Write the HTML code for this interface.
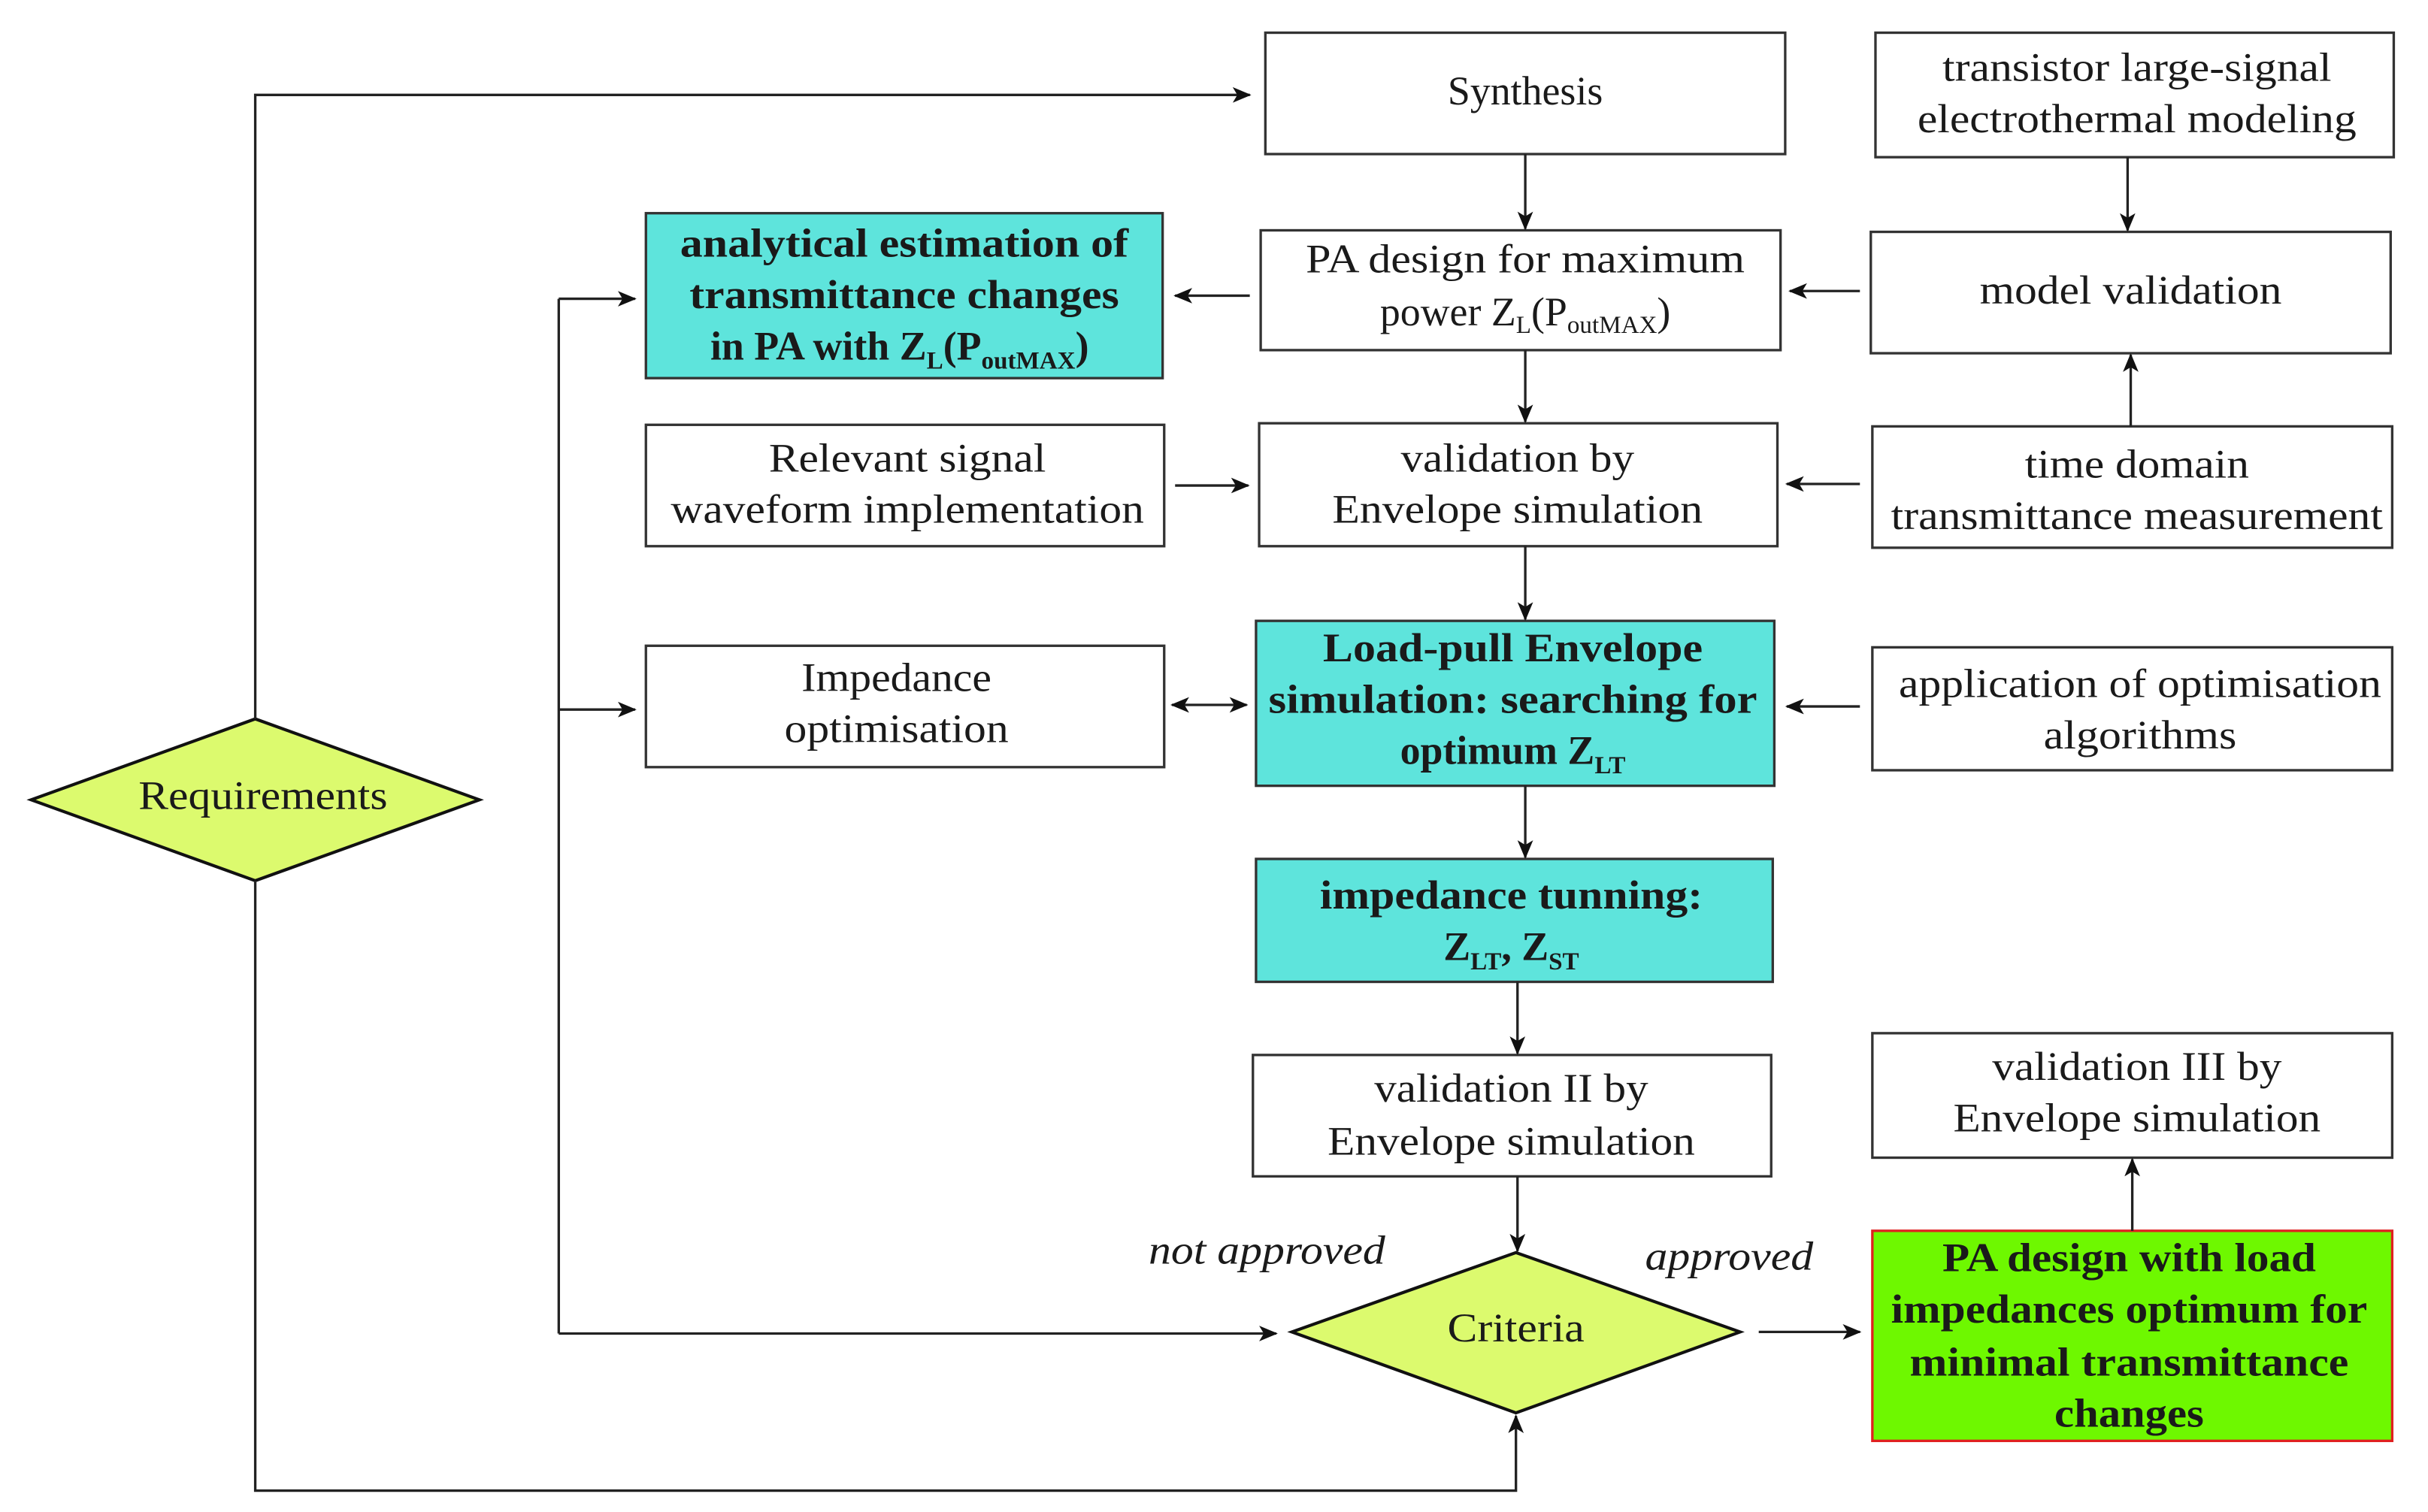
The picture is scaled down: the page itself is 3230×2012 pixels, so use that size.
<!DOCTYPE html>
<html><head><meta charset="utf-8"><style>
html,body{margin:0;padding:0;background:#fff;}
svg{display:block;}
text{font-family:"Liberation Serif",serif;fill:#1a1a1a;font-size:26px;}
.b{font-weight:bold;}
.i{font-style:italic;}
</style></head><body>
<svg width="3230" height="2012" viewBox="0 0 1560 971.7" xmlns="http://www.w3.org/2000/svg">
<defs>
<marker id="a" markerWidth="12" markerHeight="10" refX="11" refY="5" orient="auto" markerUnits="userSpaceOnUse">
<path d="M0,0 L12,5 L0,10 L3,5 Z" fill="#111"/></marker>
<marker id="as" markerWidth="12" markerHeight="10" refX="1" refY="5" orient="auto" markerUnits="userSpaceOnUse">
<path d="M12,0 L0,5 L12,10 L9,5 Z" fill="#111"/></marker>
</defs>
<g stroke="#333" stroke-width="1.6" fill="#fff">
<rect x="813" y="21" width="334" height="78"/>
<rect x="1205" y="21" width="333" height="80"/>
<rect x="415" y="137" width="332" height="106" fill="#5ee4dc"/>
<rect x="810" y="148" width="334" height="77"/>
<rect x="1202" y="149" width="334" height="78"/>
<rect x="415" y="273" width="333" height="78"/>
<rect x="809" y="272" width="333" height="79"/>
<rect x="1203" y="274" width="334" height="78"/>
<rect x="415" y="415" width="333" height="78"/>
<rect x="807" y="399" width="333" height="106" fill="#5ee4dc"/>
<rect x="1203" y="416" width="334" height="79"/>
<rect x="807" y="552" width="332" height="79" fill="#5ee4dc"/>
<rect x="805" y="678" width="333" height="78"/>
<rect x="1203" y="664" width="334" height="80"/>
<rect x="1203" y="791" width="334" height="135" fill="#6ef800" stroke="#e02020"/>
<polygon points="20,514 164,462 308,514 164,566" fill="#dcfa6e" stroke="#111" stroke-width="2"/>
<polygon points="830,856 974,805 1118,856 974,908" fill="#dcfa6e" stroke="#111" stroke-width="2"/>
</g>
<g stroke="#222" stroke-width="1.6" fill="none">
<polyline points="164,462 164,61 803,61" marker-end="url(#a)"/>
<polyline points="164,566 164,958 974,958 974,910" marker-end="url(#a)"/>
<line x1="359" y1="192" x2="359" y2="857"/>
<line x1="359" y1="192" x2="408" y2="192" marker-end="url(#a)"/>
<line x1="359" y1="456" x2="408" y2="456" marker-end="url(#a)"/>
<line x1="359" y1="857" x2="820" y2="857" marker-end="url(#a)"/>
<line x1="980" y1="99" x2="980" y2="147" marker-end="url(#a)"/>
<line x1="803" y1="190" x2="755" y2="190" marker-end="url(#a)"/>
<line x1="1195" y1="187" x2="1150" y2="187" marker-end="url(#a)"/>
<line x1="1367" y1="101" x2="1367" y2="148" marker-end="url(#a)"/>
<line x1="1369" y1="274" x2="1369" y2="228" marker-end="url(#a)"/>
<line x1="980" y1="225" x2="980" y2="271" marker-end="url(#a)"/>
<line x1="755" y1="312" x2="802" y2="312" marker-end="url(#a)"/>
<line x1="1195" y1="311" x2="1148" y2="311" marker-end="url(#a)"/>
<line x1="980" y1="351" x2="980" y2="398" marker-end="url(#a)"/>
<line x1="753" y1="453" x2="801" y2="453" marker-start="url(#as)" marker-end="url(#a)"/>
<line x1="1195" y1="454" x2="1148" y2="454" marker-end="url(#a)"/>
<line x1="980" y1="505" x2="980" y2="551" marker-end="url(#a)"/>
<line x1="975" y1="631" x2="975" y2="677" marker-end="url(#a)"/>
<line x1="975" y1="756" x2="975" y2="804" marker-end="url(#a)"/>
<line x1="1130" y1="856" x2="1195" y2="856" marker-end="url(#a)"/>
<line x1="1370" y1="791" x2="1370" y2="745" marker-end="url(#a)"/>
</g>
<g text-anchor="middle">
<text x="980" y="67">Synthesis</text>
<text x="1373" y="52" textLength="250" lengthAdjust="spacingAndGlyphs">transistor large-signal</text>
<text x="1373" y="85" textLength="282" lengthAdjust="spacingAndGlyphs">electrothermal modeling</text>
<text class="b" x="581" y="165" textLength="288" lengthAdjust="spacingAndGlyphs">analytical estimation of</text>
<text class="b" x="581" y="198" textLength="276" lengthAdjust="spacingAndGlyphs">transmittance changes</text>
<text class="b" x="578" y="231">in PA with Z<tspan font-size="16" dy="6">L</tspan><tspan dy="-6">(P</tspan><tspan font-size="16" dy="6">outMAX</tspan><tspan dy="-6">)</tspan></text>
<text x="980" y="175" textLength="282" lengthAdjust="spacingAndGlyphs">PA design for maximum</text>
<text x="980" y="209">power Z<tspan font-size="16" dy="5">L</tspan><tspan dy="-5">(P</tspan><tspan font-size="16" dy="5">outMAX</tspan><tspan dy="-5">)</tspan></text>
<text x="1369" y="195" textLength="194" lengthAdjust="spacingAndGlyphs">model validation</text>
<text x="583" y="303" textLength="178" lengthAdjust="spacingAndGlyphs">Relevant signal</text>
<text x="583" y="336" textLength="304" lengthAdjust="spacingAndGlyphs">waveform implementation</text>
<text x="975" y="303" textLength="150" lengthAdjust="spacingAndGlyphs">validation by</text>
<text x="975" y="336" textLength="238" lengthAdjust="spacingAndGlyphs">Envelope simulation</text>
<text x="1373" y="307" textLength="144" lengthAdjust="spacingAndGlyphs">time domain</text>
<text x="1373" y="340" textLength="316" lengthAdjust="spacingAndGlyphs">transmittance measurement</text>
<text x="576" y="444" textLength="122" lengthAdjust="spacingAndGlyphs">Impedance</text>
<text x="576" y="477" textLength="144" lengthAdjust="spacingAndGlyphs">optimisation</text>
<text class="b" x="972" y="425" textLength="244" lengthAdjust="spacingAndGlyphs">Load-pull Envelope</text>
<text class="b" x="972" y="458" textLength="314" lengthAdjust="spacingAndGlyphs">simulation: searching for</text>
<text class="b" x="972" y="491">optimum Z<tspan font-size="16" dy="6">LT</tspan></text>
<text x="1375" y="448" textLength="310" lengthAdjust="spacingAndGlyphs">application of optimisation</text>
<text x="1375" y="481" textLength="124" lengthAdjust="spacingAndGlyphs">algorithms</text>
<text class="b" x="971" y="584" textLength="246" lengthAdjust="spacingAndGlyphs">impedance tunning:</text>
<text class="b" x="971" y="617">Z<tspan font-size="16" dy="6">LT</tspan><tspan dy="-6">, Z</tspan><tspan font-size="16" dy="6">ST</tspan></text>
<text x="971" y="708" textLength="176" lengthAdjust="spacingAndGlyphs">validation II by</text>
<text x="971" y="742" textLength="236" lengthAdjust="spacingAndGlyphs">Envelope simulation</text>
<text x="1373" y="694" textLength="186" lengthAdjust="spacingAndGlyphs">validation III by</text>
<text x="1373" y="727" textLength="236" lengthAdjust="spacingAndGlyphs">Envelope simulation</text>
<text class="b" x="1368" y="817" textLength="240" lengthAdjust="spacingAndGlyphs">PA design with load</text>
<text class="b" x="1368" y="850" textLength="306" lengthAdjust="spacingAndGlyphs">impedances optimum for</text>
<text class="b" x="1368" y="884" textLength="282" lengthAdjust="spacingAndGlyphs">minimal transmittance</text>
<text class="b" x="1368" y="917" textLength="96" lengthAdjust="spacingAndGlyphs">changes</text>
<text x="169" y="520" textLength="160" lengthAdjust="spacingAndGlyphs">Requirements</text>
<text x="974" y="862" textLength="88" lengthAdjust="spacingAndGlyphs">Criteria</text>
<text class="i" x="814" y="812" textLength="152" lengthAdjust="spacingAndGlyphs">not approved</text>
<text class="i" x="1111" y="816" textLength="108" lengthAdjust="spacingAndGlyphs">approved</text>
</g>
</svg>
</body></html>
